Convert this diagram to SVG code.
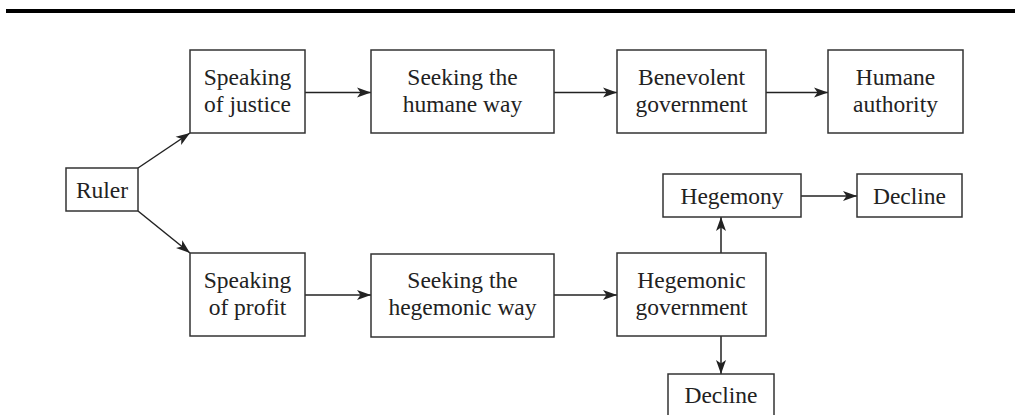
<svg xmlns="http://www.w3.org/2000/svg" width="1015" height="415" viewBox="0 0 1015 415">
<style>
rect.n{fill:#fff;stroke:#333;stroke-width:1.5}
text{font-family:"Liberation Serif","Times New Roman",serif;font-size:23.5px;fill:#222;text-anchor:middle}
.c line{stroke:#222;stroke-width:1.5;marker-end:url(#ah)}
</style>
<defs>
<marker id="ah" markerUnits="userSpaceOnUse" markerWidth="15" markerHeight="11" refX="14" refY="5.5" orient="auto">
<path d="M0,0.5 L14,5.5 L0,10.5 L3.5,5.5 z" fill="#222"/>
</marker>
</defs>
<rect x="6" y="9" width="1009" height="4" fill="#000"/>
<g class="c">
<line x1="305" y1="92.5" x2="371" y2="92.5"/>
<line x1="554" y1="92.5" x2="617" y2="92.5"/>
<line x1="766" y1="92.5" x2="828" y2="92.5"/>
<line x1="138" y1="168" x2="190" y2="133"/>
<line x1="138" y1="211" x2="190" y2="253"/>
<line x1="305" y1="295" x2="371" y2="295"/>
<line x1="554" y1="295" x2="617" y2="295"/>
<line x1="721" y1="253" x2="721" y2="217"/>
<line x1="801" y1="196" x2="857" y2="196"/>
<line x1="721" y1="336" x2="721" y2="374"/>
</g>
<g id="ruler"><rect class="n" x="66" y="168" width="72" height="43"/><text x="102" y="198">Ruler</text></g>
<g id="justice"><rect class="n" x="190" y="50" width="115" height="83"/><text x="247.5" y="85">Speaking</text><text x="247.5" y="112">of justice</text></g>
<g id="humane-way"><rect class="n" x="371" y="50" width="183" height="83"/><text x="462.5" y="85">Seeking the</text><text x="462.5" y="112">humane way</text></g>
<g id="benevolent"><rect class="n" x="617" y="50" width="149" height="83"/><text x="691.5" y="85">Benevolent</text><text x="691.5" y="112">government</text></g>
<g id="humane-authority"><rect class="n" x="828" y="50" width="135" height="83"/><text x="895.5" y="85">Humane</text><text x="895.5" y="112">authority</text></g>
<g id="profit"><rect class="n" x="190" y="253" width="115" height="83"/><text x="247.5" y="288">Speaking</text><text x="247.5" y="315">of profit</text></g>
<g id="hegemonic-way"><rect class="n" x="371" y="254" width="183" height="83"/><text x="462.5" y="288">Seeking the</text><text x="462.5" y="315">hegemonic way</text></g>
<g id="hegemonic-gov"><rect class="n" x="617" y="253" width="149" height="83"/><text x="691.5" y="288">Hegemonic</text><text x="691.5" y="315">government</text></g>
<g id="hegemony"><rect class="n" x="663" y="174" width="138" height="43"/><text x="732" y="203.5">Hegemony</text></g>
<g id="decline-1"><rect class="n" x="857" y="174" width="105" height="43"/><text x="909.5" y="203.5">Decline</text></g>
<g id="decline-2"><rect class="n" x="668" y="374" width="106" height="50"/><text x="721" y="403">Decline</text></g>
</svg>
